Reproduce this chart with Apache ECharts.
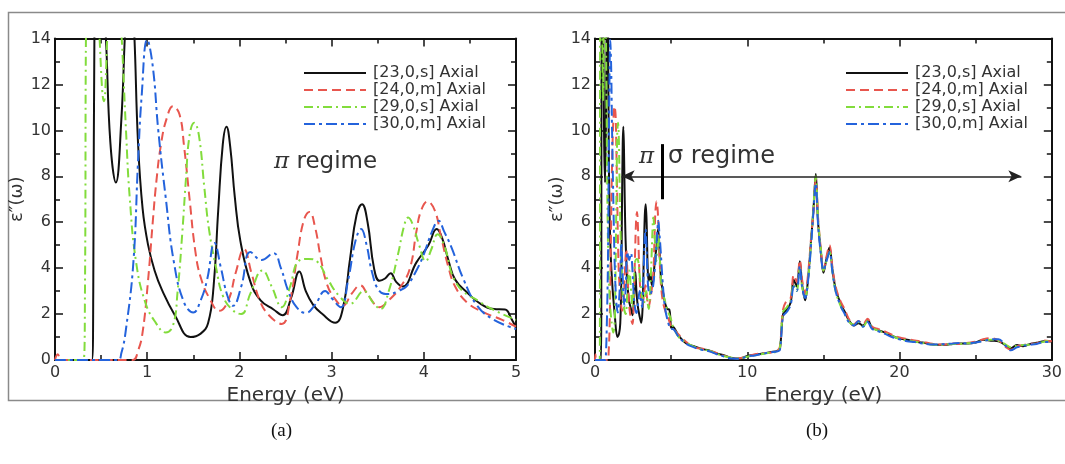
<!DOCTYPE html>
<html><head><meta charset="utf-8">
<script src="https://cdn.jsdelivr.net/npm/echarts@6/dist/echarts.min.js"></script>
<style>html,body{margin:0;padding:0;background:#fff}#c{width:1065px;height:464px}</style>
</head><body><div id="c"></div>
<script>
// ---------------- DATA ----------------
const seriesNames = ['[23,0,s] Axial', '[24,0,m] Axial', '[29,0,s] Axial', '[30,0,m] Axial'];
const panelLabels = ['(a)', '(b)'];
const xTitle = 'Energy (eV)';
const yTitle = 'ε\u2033(ω)';

// low-energy part (0-5 eV), [E, eps2]
const blackLow = [[0,0],[0.40,0],[0.415,3],[0.43,16],[0.49,18],[0.55,14.2],[0.60,9.5],[0.66,7.73],[0.72,10.5],[0.76,14.3],[0.81,18],[0.86,14.2],[0.90,9.5],[0.95,6.6],[1.01,5.0],[1.08,3.9],[1.16,3.05],[1.30,1.95],[1.47,1.0],[1.58,1.15],[1.66,1.6],[1.72,3.2],[1.77,6.5],[1.82,9.4],[1.86,10.16],[1.90,9.3],[1.95,7.1],[2.01,5.2],[2.12,3.4],[2.23,2.6],[2.37,2.2],[2.47,1.95],[2.56,2.7],[2.65,3.85],[2.72,3.0],[2.80,2.4],[2.90,2.0],[3.04,1.62],[3.12,2.2],[3.20,4.4],[3.27,6.3],[3.33,6.78],[3.39,6.0],[3.46,4.0],[3.52,3.45],[3.58,3.55],[3.64,3.78],[3.70,3.4],[3.77,3.2],[3.92,4.25],[4.05,5.0],[4.14,5.7],[4.20,5.3],[4.27,4.3],[4.34,3.5],[4.47,2.94],[4.62,2.43],[4.76,2.22],[4.88,2.2],[4.95,1.8],[5.0,1.4]];
const redLow = [[0,0],[0.03,0.25],[0.07,0],[0.84,0],[0.90,0.4],[0.95,1.2],[1.01,3.5],[1.06,6.0],[1.10,7.8],[1.15,9.4],[1.21,10.5],[1.28,11.05],[1.35,10.7],[1.40,9.3],[1.46,7.0],[1.52,4.8],[1.58,3.6],[1.68,2.65],[1.78,2.14],[1.88,2.6],[1.96,3.8],[2.05,4.83],[2.13,3.8],[2.22,2.6],[2.32,1.95],[2.46,1.57],[2.55,2.6],[2.63,4.6],[2.70,6.1],[2.76,6.45],[2.82,5.8],[2.88,4.5],[2.95,3.3],[3.03,2.7],[3.12,2.36],[3.22,2.9],[3.31,3.25],[3.40,2.8],[3.52,2.3],[3.62,2.6],[3.75,3.2],[3.85,4.0],[3.92,5.6],[3.97,6.5],[4.04,6.9],[4.12,6.5],[4.18,5.5],[4.27,4.0],[4.34,3.2],[4.47,2.5],[4.65,2.07],[4.85,1.75],[5.0,1.45]];
const greenLow = [[0,0],[0.31,0],[0.325,3],[0.34,16],[0.42,20],[0.48,14.3],[0.53,11.27],[0.57,14.3],[0.64,20],[0.72,14.3],[0.77,10.0],[0.81,7.1],[0.88,4.25],[0.98,2.5],[1.09,1.64],[1.20,1.2],[1.28,1.5],[1.33,3.0],[1.38,5.5],[1.42,7.87],[1.46,9.8],[1.51,10.33],[1.56,9.8],[1.62,7.5],[1.67,5.7],[1.75,3.96],[1.82,2.8],[1.92,2.2],[2.02,2.0],[2.12,2.9],[2.25,3.9],[2.35,3.2],[2.46,2.3],[2.55,3.2],[2.64,4.3],[2.75,4.4],[2.84,4.3],[2.96,3.5],[3.08,2.8],[3.20,2.45],[3.35,3.0],[3.45,2.5],[3.53,2.22],[3.62,3.0],[3.72,4.6],[3.79,5.9],[3.83,6.2],[3.88,5.9],[3.95,5.0],[4.02,4.3],[4.08,4.8],[4.15,5.48],[4.22,5.0],[4.36,3.3],[4.62,2.5],[4.80,2.1],[5.0,1.75]];
const blueLow = [[0,0],[0.68,0],[0.72,0.3],[0.77,1.35],[0.85,4.25],[0.90,8.6],[0.94,11.5],[1.00,13.95],[1.06,12.8],[1.12,10.0],[1.20,7.1],[1.29,4.25],[1.40,2.5],[1.50,2.07],[1.58,2.6],[1.65,3.5],[1.73,5.1],[1.80,4.0],[1.87,2.8],[1.93,2.36],[2.02,3.2],[2.12,4.7],[2.24,4.35],[2.37,4.65],[2.45,4.0],[2.53,3.0],[2.62,2.3],[2.72,2.05],[2.82,2.4],[2.93,3.0],[3.00,2.7],[3.10,2.3],[3.18,3.5],[3.26,5.2],[3.32,5.7],[3.38,5.0],[3.44,3.8],[3.52,3.0],[3.62,2.87],[3.72,3.0],[3.81,3.2],[3.92,3.9],[4.00,4.6],[4.09,5.6],[4.16,6.06],[4.22,5.6],[4.30,4.9],[4.43,3.52],[4.58,2.36],[4.76,1.75],[5.0,1.35]];

// high-energy part (5-30 eV), shared energy grid
const tailE = [5.1,5.5,6.0,6.5,7.0,7.5,8.0,8.5,9.0,9.5,10.0,10.5,11.0,11.5,12.0,12.15,12.35,12.6,12.85,13.05,13.25,13.45,13.6,13.8,14.0,14.2,14.35,14.5,14.65,14.85,15.0,15.2,15.4,15.6,15.8,16.1,16.4,16.7,17.0,17.3,17.6,17.9,18.2,18.6,19.0,19.5,20.0,20.5,21.0,21.5,22.0,22.5,23.0,23.5,24.0,24.5,25.0,25.5,26.0,26.5,27.0,27.3,27.7,28.1,28.5,29.0,29.5,30.0];
const blackTail = [1.45,1.05,0.72,0.6,0.48,0.42,0.28,0.2,0.08,0.06,0.18,0.22,0.28,0.34,0.4,0.5,2.0,2.2,2.5,3.5,3.2,4.3,3.3,2.6,3.6,5.3,6.6,8.1,6.0,4.6,3.8,4.4,4.9,3.9,3.1,2.5,2.1,1.7,1.5,1.6,1.5,1.75,1.4,1.3,1.2,1.05,0.93,0.88,0.8,0.76,0.7,0.66,0.66,0.7,0.72,0.72,0.76,0.88,0.84,0.82,0.62,0.5,0.65,0.6,0.68,0.75,0.82,0.8];
const redTail = [1.4,1.1,0.78,0.55,0.5,0.4,0.3,0.18,0.1,0.08,0.15,0.25,0.3,0.32,0.42,0.6,2.2,2.6,2.7,3.7,3.4,4.35,3.5,2.9,3.8,5.4,6.5,7.9,6.2,4.7,3.9,4.5,5.0,4.0,3.2,2.6,2.2,1.75,1.55,1.7,1.55,1.8,1.45,1.35,1.25,1.1,0.98,0.92,0.85,0.8,0.72,0.68,0.68,0.72,0.7,0.75,0.8,0.9,0.95,0.85,0.55,0.45,0.6,0.65,0.7,0.72,0.85,0.82];
const greenTail = [1.5,1.0,0.75,0.58,0.46,0.4,0.27,0.16,0.1,0.07,0.14,0.2,0.26,0.32,0.38,0.55,2.1,2.3,2.6,3.3,3.0,4.0,3.2,2.7,3.5,5.2,6.7,8.0,6.1,4.7,3.9,4.3,4.7,3.8,3.0,2.4,2.0,1.65,1.55,1.65,1.45,1.7,1.4,1.28,1.18,1.05,0.92,0.85,0.8,0.74,0.69,0.65,0.67,0.7,0.7,0.73,0.75,0.85,0.88,0.84,0.66,0.55,0.62,0.65,0.66,0.72,0.8,0.85];
const blueTail = [1.35,1.0,0.7,0.55,0.45,0.38,0.25,0.15,0.06,0.05,0.16,0.2,0.27,0.33,0.38,0.45,1.9,2.1,2.4,3.2,3.0,4.1,3.2,2.7,3.5,5.1,6.5,7.7,5.9,4.5,3.9,4.3,4.7,3.8,3.0,2.4,2.0,1.62,1.5,1.7,1.45,1.65,1.35,1.25,1.15,1.0,0.9,0.82,0.78,0.72,0.68,0.67,0.7,0.72,0.74,0.72,0.76,0.82,0.9,0.9,0.6,0.42,0.55,0.62,0.66,0.7,0.78,0.78];

// annotation values (data coordinates, right panel)
const arrowFromTo = [[1.75, 8], [28.0, 8]];
const dividerLine = [[4.4, 9.4], [4.4, 7.0]];

// ---------------- STYLE ----------------
const colors = ['#111111', '#e8564e', '#82dc3c', '#2463dc'];
const dashes = ['solid', [9, 5], [9, 4, 2, 4], [11, 4, 3, 4]];
const FONT = 'DejaVu Sans';

const lowSets = [blackLow, redLow, greenLow, blueLow];
const tailSets = [blackTail, redTail, greenTail, blueTail];

function xAxes(grid, max, interval) {
  const base = {
    gridIndex: grid, type: 'value', min: 0, max: max, interval: interval,
    axisLine: {show: true, onZero: false, lineStyle: {color: '#111', width: 2}},
    axisTick: {show: true, inside: true, length: 8, lineStyle: {color: '#111', width: 1.5}},
    minorTick: {show: true, splitNumber: 2, length: 5, lineStyle: {color: '#111', width: 1.5}},
    splitLine: {show: false}, minorSplitLine: {show: false}
  };
  return [
    Object.assign({}, base, {position: 'bottom',
      axisLabel: {show: true, fontSize: 16, color: '#333', fontFamily: FONT, margin: 5},
      name: xTitle, nameLocation: 'middle', nameGap: 21,
      nameTextStyle: {fontSize: 20, color: '#333', fontFamily: FONT}}),
    Object.assign({}, base, {position: 'top', axisLabel: {show: false}})
  ];
}
function yAxes(grid) {
  const base = {
    gridIndex: grid, type: 'value', min: 0, max: 14, interval: 2,
    axisLine: {show: true, onZero: false, lineStyle: {color: '#111', width: 2}},
    axisTick: {show: true, inside: true, length: 8, lineStyle: {color: '#111', width: 1.5}},
    minorTick: {show: true, splitNumber: 2, length: 5, lineStyle: {color: '#111', width: 1.5}},
    splitLine: {show: false}, minorSplitLine: {show: false}
  };
  return [
    Object.assign({}, base, {position: 'left',
      axisLabel: {show: true, fontSize: 16, color: '#333', fontFamily: FONT, margin: 4},
      name: yTitle, nameLocation: 'middle', nameGap: 20, nameRotate: 90,
      nameTextStyle: {fontSize: 18, color: '#333', fontFamily: FONT}}),
    Object.assign({}, base, {position: 'right', axisLabel: {show: false}})
  ];
}

const series = [];
for (let i = 0; i < 4; i++) {
  series.push({
    name: seriesNames[i], type: 'line', xAxisIndex: 0, yAxisIndex: 0,
    data: lowSets[i], showSymbol: false, symbol: 'none', smooth: 0.45,
    lineStyle: {color: colors[i], width: 2, type: dashes[i]}, itemStyle: {color: colors[i]},
    animation: false, clip: true
  });
}
for (let i = 0; i < 4; i++) {
  const tail = tailE.map((e, k) => [e, tailSets[i][k]]);
  const s = {
    name: seriesNames[i], type: 'line', xAxisIndex: 2, yAxisIndex: 2,
    data: lowSets[i].concat(tail), showSymbol: false, symbol: 'none', smooth: 0.35,
    lineStyle: {color: colors[i], width: 2, type: dashes[i]}, itemStyle: {color: colors[i]},
    animation: false, clip: true
  };
  if (i === 0) {
    s.markLine = {
      silent: true, animation: false, label: {show: false},
      symbol: ['arrow', 'arrow'], symbolSize: [9, 13],
      lineStyle: {color: '#222', width: 1.5, type: 'solid'},
      emphasis: {disabled: true},
      data: [
        [{coord: arrowFromTo[0]}, {coord: arrowFromTo[1]}],
        [{coord: dividerLine[0], symbol: 'none', lineStyle: {color: '#000', width: 3, type: 'solid'}},
         {coord: dividerLine[1], symbol: 'none'}]
      ]
    };
  }
  series.push(s);
}

const legendCommon = {
  orient: 'vertical', itemWidth: 62, itemHeight: 14, itemGap: 1, top: 65, padding: 0,
  data: seriesNames, selectedMode: false,
  itemStyle: {opacity: 0},
  textStyle: {fontSize: 16, lineHeight: 14, color: '#333', fontFamily: FONT, padding: [0, 0, 0, 2]}
};

const chart = echarts.init(document.getElementById('c'), null, {renderer: 'canvas'});
chart.setOption({
  animation: false,
  backgroundColor: '#fff',
  grid: [
    {left: 55, right: 1065 - 516, top: 38.5, bottom: 464 - 360},
    {left: 595, right: 1065 - 1057, top: 38.5, bottom: 464 - 360}
  ],
  xAxis: xAxes(0, 5, 1).concat(xAxes(1, 30, 10)),
  yAxis: yAxes(0).concat(yAxes(1)),
  legend: [
    Object.assign({}, legendCommon, {left: 303}),
    Object.assign({}, legendCommon, {left: 845})
  ],
  graphic: [
    {type: 'rect', silent: true, shape: {x: 8.5, y: 12.5, width: 1070, height: 388},
     style: {fill: 'none', stroke: '#8a8a8a', lineWidth: 1.5}},
    {type: 'text', left: 274, top: 151, silent: true,
     style: {text: '{p|π} regime', fontSize: 23, fontFamily: FONT, fill: '#333',
             rich: {p: {fontSize: 23, fontStyle: 'italic', fontFamily: 'DejaVu Serif', fill: '#333'}}}},
    {type: 'text', left: 639, top: 146, silent: true,
     style: {text: 'π', fontSize: 23, fontStyle: 'italic', fontFamily: 'DejaVu Serif', fill: '#333'}},
    {type: 'text', left: 668, top: 145, silent: true,
     style: {text: 'σ regime', fontSize: 24, fontFamily: FONT, fill: '#333'}},
    {type: 'text', left: 271, top: 422, silent: true,
     style: {text: panelLabels[0], fontSize: 19, fontFamily: 'Liberation Serif', fill: '#111'}},
    {type: 'text', left: 806, top: 422, silent: true,
     style: {text: panelLabels[1], fontSize: 19, fontFamily: 'Liberation Serif', fill: '#111'}}
  ],
  series: series
});
</script></body></html>
